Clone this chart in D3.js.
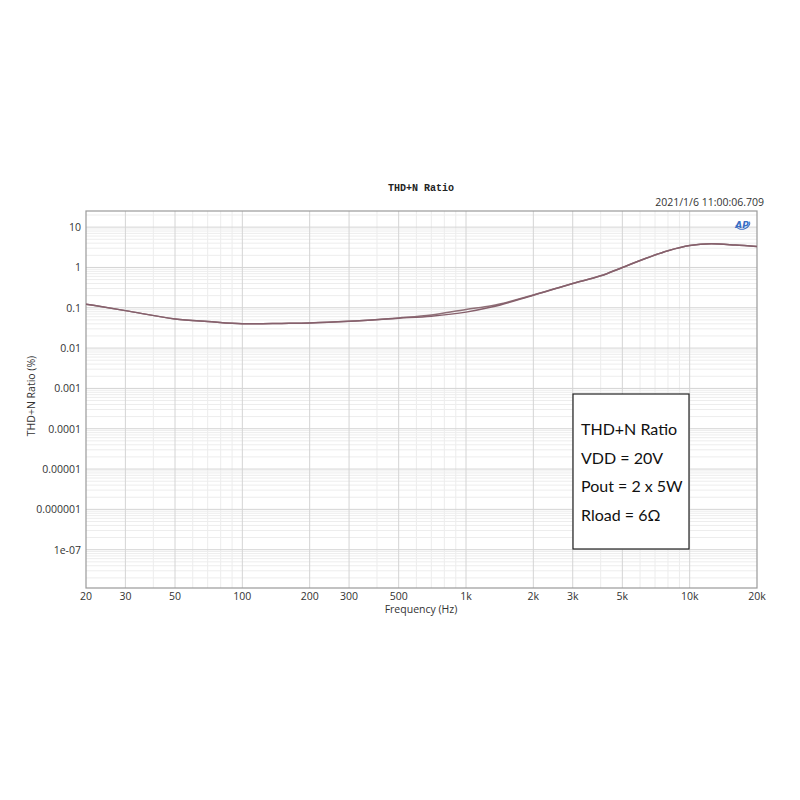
<!DOCTYPE html>
<html>
<head>
<meta charset="utf-8">
<script src="https://cdn.jsdelivr.net/npm/d3@7"></script>
<style>
  html, body { margin: 0; padding: 0; background: #fff; }
  svg { display: block; }
</style>
</head>
<body>
<script>
// ---- Data ----
const frequencies = [20, 30, 50, 70, 100, 150, 200, 300, 500, 700, 1000, 1300, 2000, 3000, 4000, 5000, 6300, 8000, 10000, 12500, 16000, 20000];
const thdChannelA = [0.123, 0.085, 0.053, 0.0455, 0.040, 0.041, 0.042, 0.046, 0.055, 0.062, 0.078, 0.104, 0.205, 0.40, 0.62, 1.0, 1.65, 2.6, 3.5, 3.85, 3.6, 3.3];
const thdChannelB = [0.123, 0.085, 0.053, 0.0455, 0.040, 0.041, 0.042, 0.046, 0.056, 0.066, 0.091, 0.112, 0.207, 0.40, 0.62, 1.0, 1.65, 2.6, 3.5, 3.85, 3.6, 3.3];
const xTickValues = [20, 30, 50, 100, 200, 300, 500, 1000, 2000, 3000, 5000, 10000, 20000];
const xTickLabels = ["20", "30", "50", "100", "200", "300", "500", "1k", "2k", "3k", "5k", "10k", "20k"];
const yTickValues = [10, 1, 0.1, 0.01, 0.001, 0.0001, 0.00001, 0.000001, 1e-7];
const yTickLabels = ["10", "1", "0.1", "0.01", "0.001", "0.0001", "0.00001", "0.000001", "1e-07"];
const legendLines = ["THD+N Ratio", "VDD = 20V", "Pout = 2 x 5W", "Rload = 6\u03A9"];
const titleText = "THD+N Ratio";
const timestampText = "2021/1/6 11:00:06.709";
const xTitle = "Frequency (Hz)";
const yTitle = "THD+N Ratio (%)";

// ---- Layout ----
const W = 800, H = 800;
const plot = { left: 86, right: 757, top: 211, bottom: 588 };

const svg = d3.select("body").append("svg").attr("width", W).attr("height", H);

const x = d3.scaleLog().domain([20, 20000]).range([plot.left, plot.right]);
const y = d3.scaleLog().domain([Math.pow(10, -7.95), Math.pow(10, 1.4)]).range([plot.bottom, plot.top]);

const g = svg.append("g");

// minor grid (x)
const xMinor = [];
for (let dec = 10; dec <= 10000; dec *= 10) {
  for (let m = 1; m <= 9; m++) {
    const v = dec * m;
    if (v > 20 && v < 20000 && !xTickValues.includes(v)) xMinor.push(v);
  }
}
g.selectAll(".xminor").data(xMinor).enter().append("line")
  .attr("x1", d => x(d)).attr("x2", d => x(d))
  .attr("y1", plot.top).attr("y2", plot.bottom)
  .attr("stroke", "#ececec").attr("stroke-width", 1);

// minor grid (y)
const yMinor = [];
for (let e = -9; e <= 1; e++) {
  for (let m = 2; m <= 9; m++) {
    const v = m * Math.pow(10, e);
    if (v > y.domain()[0] && v < y.domain()[1]) yMinor.push(v);
  }
}
g.selectAll(".yminor").data(yMinor).enter().append("line")
  .attr("x1", plot.left).attr("x2", plot.right)
  .attr("y1", d => y(d)).attr("y2", d => y(d))
  .attr("stroke", "#ededed").attr("stroke-width", 1);

// major grid
g.selectAll(".xmajor").data(xTickValues.slice(1, -1)).enter().append("line")
  .attr("x1", d => x(d)).attr("x2", d => x(d))
  .attr("y1", plot.top).attr("y2", plot.bottom)
  .attr("stroke", "#d4d4d4").attr("stroke-width", 1);
g.selectAll(".ymajor").data(yTickValues).enter().append("line")
  .attr("x1", plot.left).attr("x2", plot.right)
  .attr("y1", d => y(d)).attr("y2", d => y(d))
  .attr("stroke", "#d4d4d4").attr("stroke-width", 1);

// plot frame
g.append("rect")
  .attr("x", plot.left).attr("y", plot.top)
  .attr("width", plot.right - plot.left).attr("height", plot.bottom - plot.top)
  .attr("fill", "none").attr("stroke", "#9a9a9a").attr("stroke-width", 1.2);

// axes labels
const labelFont = "'Open Sans', 'Noto Sans', sans-serif";
g.selectAll(".xlab").data(xTickValues).enter().append("text")
  .attr("x", d => x(d)).attr("y", 600)
  .attr("text-anchor", "middle")
  .attr("font-family", labelFont).attr("font-size", 10.5).attr("fill", "#333")
  .text((d, i) => xTickLabels[i]);
g.selectAll(".ylab").data(yTickValues).enter().append("text")
  .attr("x", 81).attr("y", d => y(d) + 4)
  .attr("text-anchor", "end")
  .attr("font-family", labelFont).attr("font-size", 10.5).attr("fill", "#333")
  .text((d, i) => yTickLabels[i]);

svg.append("text").attr("x", 421).attr("y", 613).attr("text-anchor", "middle")
  .attr("font-family", labelFont).attr("font-size", 10.5).attr("fill", "#333").text(xTitle);
svg.append("text").attr("transform", "translate(35,396) rotate(-90)").attr("text-anchor", "middle")
  .attr("font-family", labelFont).attr("font-size", 10.5).attr("fill", "#333").text(yTitle);

// title & timestamp
svg.append("text").attr("x", 421).attr("y", 191).attr("text-anchor", "middle")
  .attr("font-family", "'Liberation Mono', 'DejaVu Sans Mono', monospace").attr("font-size", 10)
  .attr("font-weight", "bold").attr("fill", "#222").text(titleText);
svg.append("text").attr("x", 764).attr("y", 206).attr("text-anchor", "end")
  .attr("font-family", labelFont).attr("font-size", 10.5).attr("fill", "#333").text(timestampText);

// AP logo
const logo = svg.append("g").attr("transform", "translate(743,224)");
logo.append("ellipse").attr("cx", 0).attr("cy", 0).attr("rx", 7).attr("ry", 5)
  .attr("fill", "none").attr("stroke", "#3b6fc4").attr("stroke-width", 1)
  .attr("stroke-dasharray", "20 30").attr("transform", "rotate(-20)");
logo.append("text").attr("x", -1).attr("y", 3.5).attr("text-anchor", "middle")
  .attr("font-family", "'DejaVu Sans', sans-serif").attr("font-size", 9).attr("font-style", "italic")
  .attr("font-weight", "bold").attr("fill", "#3b6fc4").text("AP");

// curves
const line = d3.line().x(d => x(d[0])).y(d => y(d[1])).curve(d3.curveMonotoneX);
const clip = svg.append("clipPath").attr("id", "clip").append("rect")
  .attr("x", plot.left).attr("y", plot.top).attr("width", plot.right - plot.left).attr("height", plot.bottom - plot.top);
const series = [
  { vals: thdChannelB, color: "#8f7078" },
  { vals: thdChannelA, color: "#86606c" }
];
series.forEach(s => {
  svg.append("path")
    .datum(frequencies.map((f, i) => [f, s.vals[i]]))
    .attr("d", line)
    .attr("fill", "none").attr("stroke", s.color).attr("stroke-width", 1.5)
    .attr("clip-path", "url(#clip)");
});

// legend box
const lg = svg.append("g");
lg.append("rect").attr("x", 573).attr("y", 394).attr("width", 116).attr("height", 155)
  .attr("fill", "#fff").attr("stroke", "#222").attr("stroke-width", 1.2);
lg.selectAll("text").data(legendLines).enter().append("text")
  .attr("x", 581).attr("y", (d, i) => 435 + i * 28.7)
  .attr("font-family", "Lato, 'Open Sans', sans-serif").attr("font-size", 16).attr("fill", "#111")
  .text(d => d);
</script>
</body>
</html>
